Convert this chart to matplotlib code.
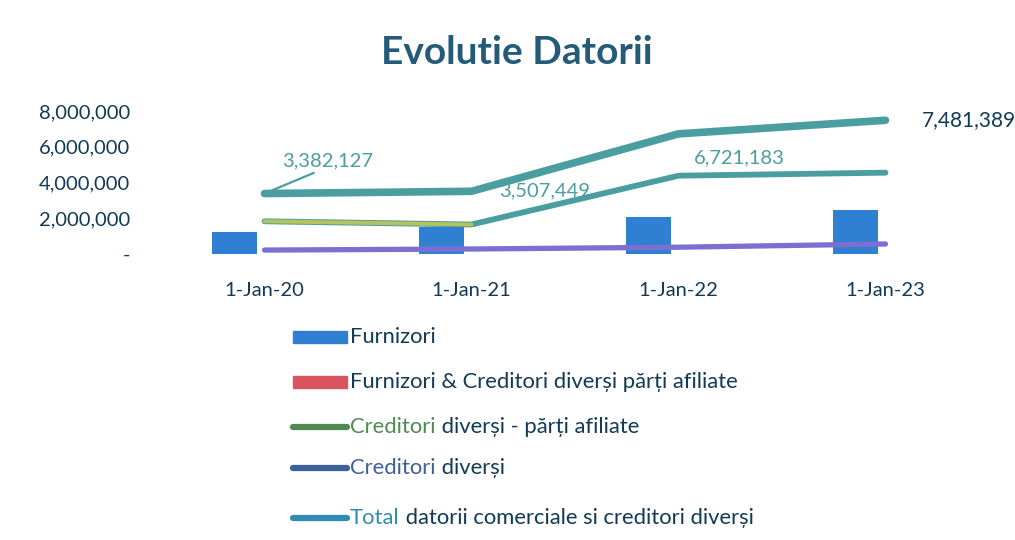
import matplotlib
matplotlib.use("Agg")
import matplotlib.pyplot as plt
from matplotlib.ticker import FuncFormatter
from matplotlib.lines import Line2D
from matplotlib.patches import Rectangle

# ---- data ----
categories = ["1-Jan-20", "1-Jan-21", "1-Jan-22", "1-Jan-23"]
furnizori = [1220000, 1500000, 2050000, 2440000]
furnizori_afiliate = [0, 0, 0, 0]
creditori_afiliate = [1830000, 1650000, 4380000, 4550000]
creditori_diversi = [220000, 280000, 380000, 560000]
total = [3382127, 3507449, 6721183, 7481389]
total_labels = ["3,382,127", "3,507,449", "6,721,183", "7,481,389"]
y_ticks = [0, 2000000, 4000000, 6000000, 8000000]

legend_labels = [
    [("Furnizori", None)],
    [("Furnizori & Creditori diverși părți afiliate", None)],
    [("Creditori", "#4f8a53"), (" diverși - părți afiliate", None)],
    [("Creditori", "#3d5f9c"), (" diverși", None)],
    [("Total", "#2e8db0"), (" datorii comerciale si creditori diverși", None)],
]

# ---- style ----
FONT = "Lato"
plt.rcParams["font.family"] = [FONT, "DejaVu Sans"]
DARK = "#123a55"
TEAL = "#4a9ea0"
BLUE = "#2f7fd3"
RED = "#d9545f"
PURPLE = "#7b6fd2"
YGREEN = "#b5c35a"

W, H = 1015, 540
fig = plt.figure(figsize=(W / 100, H / 100), dpi=100)

def fx(px):
    return px / W

def fy(py):
    return 1 - py / H

ax = fig.add_axes([fx(161), fy(254), fx(989) - fx(161), fy(111) - fy(254)])

x = list(range(len(categories)))
bw = 0.222
ax.bar([i - 0.145 for i in x], furnizori, width=bw, color=BLUE, zorder=2)
ax.bar([i + 0.145 for i in x], furnizori_afiliate, width=bw, color=RED, zorder=2)

ax.plot(x, creditori_diversi, color=PURPLE, lw=3.8, solid_capstyle="round", zorder=3)
ax.plot(x, creditori_afiliate, color=TEAL, lw=4.2, solid_capstyle="round", zorder=3)
ax.plot(x[:2], creditori_afiliate[:2], color=YGREEN, lw=2.8, solid_capstyle="round", zorder=3)
ax.plot(x, total, color=TEAL, lw=5.5, solid_capstyle="round", zorder=4)

ax.set_xlim(-0.5, len(categories) - 0.5)
ax.set_ylim(0, 8000000)
ax.set_yticks(y_ticks)
ax.yaxis.set_major_formatter(FuncFormatter(lambda v, p: "-" if v == 0 else f"{int(v):,}"))
ax.set_xticks(x)
ax.set_xticklabels(categories)
ax.tick_params(axis="y", length=0, pad=22, labelsize=14.5, labelcolor=DARK)
ax.tick_params(axis="x", length=0, pad=20, labelsize=14.5, labelcolor=DARK)
for s in ax.spines.values():
    s.set_visible(False)

# data labels for total
lab_fs = 14.5
ax.annotate(total_labels[0], xy=(x[0], total[0]), xycoords="data",
            xytext=(63, 33), textcoords="offset pixels", ha="center", va="center",
            fontsize=lab_fs, color=TEAL,
            arrowprops=dict(arrowstyle="-", color=TEAL, lw=1.6, relpos=(0.45, 0.0),
                            shrinkA=2, shrinkB=3))
ax.annotate(total_labels[1], xy=(x[1], total[1]), xycoords="data",
            xytext=(73, 0), textcoords="offset pixels", ha="center", va="center",
            fontsize=lab_fs, color=TEAL, zorder=5)
ax.annotate(total_labels[2], xy=(x[2], total[2]), xycoords="data",
            xytext=(61, -24), textcoords="offset pixels", ha="center", va="center",
            fontsize=lab_fs, color=TEAL, zorder=5)
ax.annotate(total_labels[3], xy=(x[3], total[3]), xycoords="data",
            xytext=(36, 0), textcoords="offset pixels", ha="left", va="center",
            fontsize=15, color=DARK, annotation_clip=False)

# title
fig.text(fx(517), fy(52), "Evolutie Datorii", ha="center", va="center",
         fontsize=28, fontweight="bold", color="#235b78")

# manual legend
rows_y = [337, 382, 427, 468, 518]
hx0, hx1, tx = 293, 347, 350
leg_fs = 15.8
handles = [
    ("rect", BLUE),
    ("rect", RED),
    ("line", "#4f8a53"),
    ("line", "#3d5f9c"),
    ("line", "#2e8db0"),
]
for (kind, col), yy, parts in zip(handles, rows_y, legend_labels):
    if kind == "rect":
        fig.add_artist(Rectangle((fx(hx0), fy(yy + 6)), fx(hx1) - fx(hx0), fy(yy - 6) - fy(yy + 6),
                                 transform=fig.transFigure, color=col))
    else:
        fig.add_artist(Line2D([fx(hx0), fx(hx1)], [fy(yy), fy(yy)], transform=fig.transFigure,
                              color=col, lw=4.5, solid_capstyle="round"))
    prev = None
    for txt, c in parts:
        c = c or DARK
        if prev is None:
            prev = fig.text(fx(tx), fy(yy), txt, ha="left", va="center",
                            fontsize=leg_fs, color=c)
        else:
            prev = fig.add_artist(matplotlib.text.Annotation(
                txt, xy=(1, 0.5), xycoords=prev, ha="left", va="center",
                fontsize=leg_fs, color=c))

fig.savefig("out.png", dpi=100)
